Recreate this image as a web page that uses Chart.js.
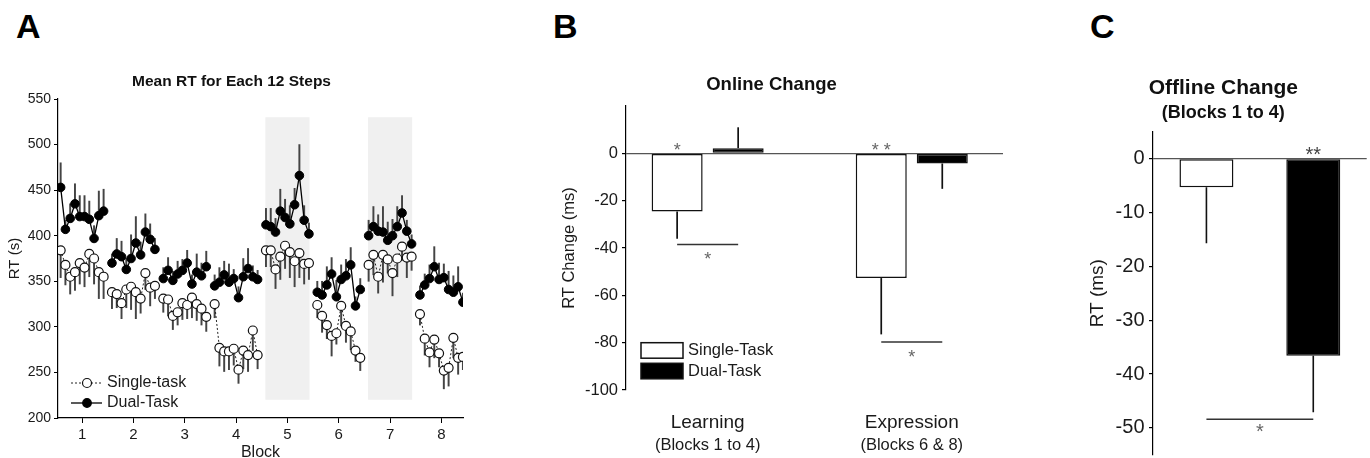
<!DOCTYPE html>
<html>
<head>
<meta charset="utf-8">
<script src="https://cdn.jsdelivr.net/npm/chart.js@4.4.1/dist/chart.umd.min.js"></script>
<style>
  body { margin: 0; background: #fff; }
  #page { position: relative; width: 1370px; height: 458px; overflow: hidden; background: #fff; }
  canvas { position: absolute; top: 0; }
  .lab { position: absolute; font: bold 34px "Liberation Sans", Arial, sans-serif; line-height: 34px; color: #000; }
</style>
</head>
<body>
<div id="page">
  <div class="lab" style="left:16px;top:9px">A</div>
  <div class="lab" style="left:553px;top:9px">B</div>
  <div class="lab" style="left:1090px;top:9px">C</div>
  <canvas id="chartA" width="480" height="458" style="left:0"></canvas>
  <canvas id="chartB" width="470" height="458" style="left:540px"></canvas>
  <canvas id="chartC" width="290" height="458" style="left:1080px"></canvas>
</div>
<script>
// ---- panel A : mean RT per 12 steps, 10 points per block ----
var blocks = [1, 2, 3, 4, 5, 6, 7, 8];
var shadedBlocks = [5, 7];
var stepsPerBlock = 10;
var stepWidth = 0.093;

var singleRT = [
  384, 368, 355, 360, 370, 365, 380, 375, 360, 355,
  338, 336, 326, 341, 344, 338, 331, 359, 343, 345,
  331, 330, 312, 316, 326, 324, 332, 325, 320, 311,
  325, 277, 273, 273, 276, 253, 274, 269, 296, 269,
  384, 384, 363, 377, 389, 382, 372, 381, 369, 370,
  324, 312, 302, 290, 293, 323, 301, 295, 274, 266,
  368, 379, 355, 379, 374, 359, 375, 388, 376, 377,
  314, 287, 272, 286, 271, 252, 255, 288, 266, 267
];
var singleErr = [
  30, 22, 19, 20, 23, 21, 25, 28, 29, 24,
  18, 15, 17, 20, 25, 29, 16, 18, 20, 14,
  15, 18, 15, 14, 18, 15, 22, 18, 18, 16,
  15, 20, 22, 20, 18, 15, 20, 18, 22, 15,
  18, 18, 21, 25, 25, 28, 28, 27, 22, 18,
  14, 18, 15, 22, 12, 22, 18, 20, 12, 14,
  18, 22, 18, 30, 15, 25, 20, 15, 22, 15,
  12, 18, 16, 20, 15, 20, 20, 22, 18, 14
];
var dualRT = [
  453, 407, 419, 435, 421, 421, 418, 397, 422, 427,
  370, 380, 377, 363, 375, 392, 379, 404, 396, 385,
  353, 362, 351, 358, 362, 370, 347, 360, 356, 366,
  345, 349, 357, 349, 353, 332, 355, 364, 355, 352,
  412, 410, 404, 427, 420, 413, 434, 466, 417, 402,
  338, 335, 346, 358, 333, 352, 356, 368, 323, 341,
  400, 410, 405, 404, 395, 400, 410, 425, 405, 391,
  335, 346, 353, 366, 352, 354, 341, 338, 344, 327
];
var dualErr = [
  27, 10, 16, 22, 23, 23, 20, 14, 27, 24,
  10, 17, 17, 12, 26, 29, 14, 20, 17, 12,
  12, 14, 10, 14, 12, 14, 10, 20, 14, 17,
  12, 16, 15, 20, 10, 12, 20, 22, 12, 10,
  18, 20, 15, 24, 20, 20, 18, 34, 16, 12,
  12, 15, 20, 18, 18, 16, 18, 19, 10, 12,
  17, 22, 18, 28, 20, 18, 22, 19, 12, 10,
  10, 12, 15, 22, 18, 15, 20, 18, 22, 10
];
var rtTicks = [200, 250, 300, 350, 400, 450, 500, 550];

// ---- panel B : online change ----
var onlineCats = ['Learning', 'Expression'];
var onlineSubs = ['(Blocks 1 to 4)', '(Blocks 6 & 8)'];
var onlineSingle = [-24.6, -52.7];
var onlineSingleErr = [11.5, 23.8];
var onlineDual = [2.2, -4.3];
var onlineDualErr = [8.8, 10.7];
var onlineSigMarks = ['*', '* *'];
var onlineSigDiff = ['*', '*'];
var onlineDiffLevel = [-38.5, -79.7];

// ---- panel C : offline change ----
var offlineCats = ['Single-Task', 'Dual-Task'];
var offlineRT = [-5.3, -36.6];
var offlineErr = [10.4, 10.5];
var offlineSigMarks = ['', '**'];
var offlineSigDiff = '*';
var offlineDiffLevel = -48.4;

var FONT = "'Liberation Sans', Arial, sans-serif";
Chart.defaults.font.family = FONT;
Chart.defaults.color = '#1a1a1a';

// error bar end, pointing away from zero
function errEnd(v, e) { return v < 0 ? v - e : v + e; }

// build point series with a gap between blocks
var singlePts = [], dualPts = [], singleBars = [], dualBars = [];
blocks.forEach(function (b, bi) {
  for (var i = 0; i < stepsPerBlock; i++) {
    var k = bi * stepsPerBlock + i;
    var x = b + (i - (stepsPerBlock - 1) / 2) * stepWidth;
    singlePts.push({ x: x, y: singleRT[k] });
    dualPts.push({ x: x, y: dualRT[k] });
    singleBars.push({ x: x, y: [singleRT[k] - singleErr[k], singleRT[k]] });
    dualBars.push({ x: x, y: [dualRT[k], dualRT[k] + dualErr[k]] });
  }
  singlePts.push({ x: b + 0.5, y: null });
  dualPts.push({ x: b + 0.5, y: null });
});

var shadePlugin = {
  id: 'shade',
  beforeDatasetsDraw: function (chart, args, opts) {
    var ctx = chart.ctx, xs = chart.scales.x, ys = chart.scales.y;
    ctx.save();
    ctx.fillStyle = opts.color;
    opts.blocks.forEach(function (b) {
      var x0 = xs.getPixelForValue(b - opts.half), x1 = xs.getPixelForValue(b + opts.half);
      var y0 = ys.getPixelForValue(opts.top), y1 = ys.getPixelForValue(opts.bottom);
      ctx.fillRect(x0, y0, x1 - x0, y1 - y0);
    });
    ctx.restore();
  }
};

var legendA = {
  id: 'legendA',
  afterDraw: function (chart) {
    var ctx = chart.ctx, area = chart.chartArea;
    var rows = [-35, -15];
    ctx.save();
    chart.data.datasets.slice(0, 2).forEach(function (ds, i) {
      var y = area.bottom + rows[i];
      ctx.strokeStyle = ds.borderColor;
      ctx.lineWidth = ds.borderWidth;
      ctx.setLineDash(ds.borderDash || []);
      ctx.beginPath();
      ctx.moveTo(area.left + 13, y);
      ctx.lineTo(area.left + 44, y);
      ctx.stroke();
      ctx.setLineDash([]);
      ctx.beginPath();
      ctx.arc(area.left + 29, y, ds.pointRadius, 0, Math.PI * 2);
      ctx.fillStyle = ds.pointBackgroundColor;
      ctx.fill();
      ctx.lineWidth = 1.2;
      ctx.strokeStyle = ds.pointBorderColor;
      ctx.stroke();
      ctx.fillStyle = '#1a1a1a';
      ctx.font = '16px ' + FONT;
      ctx.textBaseline = 'middle';
      ctx.fillText(ds.label, area.left + 49, y);
    });
    ctx.restore();
  }
};

new Chart(document.getElementById('chartA'), {
  type: 'line',
  data: {
    datasets: [
      { label: 'Single-task', data: singlePts, borderColor: '#222', borderWidth: 1, borderDash: [2, 2],
        pointRadius: 4.5, pointBackgroundColor: '#fff', pointBorderColor: '#111', pointBorderWidth: 1.2,
        spanGaps: false, order: 0 },
      { label: 'Dual-Task', data: dualPts, borderColor: '#000', borderWidth: 1.3,
        pointRadius: 4.3, pointBackgroundColor: '#000', pointBorderColor: '#000', pointBorderWidth: 1,
        spanGaps: false, order: 0 },
      { type: 'bar', data: singleBars, backgroundColor: '#444', barThickness: 1.3, grouped: false, order: 1 },
      { type: 'bar', data: dualBars, backgroundColor: '#444', barThickness: 1.3, grouped: false, order: 1 }
    ]
  },
  options: {
    responsive: false, animation: false, devicePixelRatio: 1,
    layout: { padding: { left: 0, right: 17, top: 0, bottom: 0 } },
    plugins: {
      legend: { display: false }, tooltip: { enabled: false },
      title: { display: true, text: 'Mean RT for Each 12 Steps', color: '#111',
        font: { size: 15.5, weight: 'bold' }, padding: { top: 72.4, bottom: 8 } },
      shade: { blocks: shadedBlocks, half: 0.43, top: 530, bottom: 220, color: '#f0f0f0' }
    },
    scales: {
      x: {
        type: 'linear', min: 0.53, max: 8.42, offset: false,
        afterBuildTicks: function (s) { s.ticks = blocks.map(function (v) { return { value: v }; }); },
        afterFit: function (s) { s.height = 40; s.paddingLeft = 0; s.paddingRight = 0; },
        grid: { display: true, drawOnChartArea: false, tickLength: 5, color: '#000', offset: false },
        border: { color: '#000', width: 1.2 },
        ticks: { font: { size: 15 }, padding: 3, color: '#1a1a1a' },
        title: { display: true, text: 'Block', font: { size: 16, lineHeight: 1 }, padding: { top: 0, bottom: -3 } }
      },
      y: {
        min: 200, max: 550,
        afterBuildTicks: function (s) { s.ticks = rtTicks.map(function (v) { return { value: v }; }); },
        afterFit: function (s) { s.width = 58; s.paddingTop = 0; s.paddingBottom = 0; },
        grid: { drawOnChartArea: false, tickLength: 4, color: '#000' },
        border: { color: '#000', width: 1.2 },
        ticks: { font: { size: 14 }, padding: 3, color: '#1a1a1a' },
        title: { display: true, text: 'RT (s)', font: { size: 15 }, padding: { top: 6, bottom: 0 } }
      }
    }
  },
  plugins: [shadePlugin, legendA]
});

// significance marks + brackets, placed from the bar elements
var sigPlugin = {
  id: 'sig',
  afterDatasetsDraw: function (chart, args, opts) {
    var ctx = chart.ctx, ys = chart.scales.y;
    var zero = ys.getPixelForValue(0);
    ctx.save();
    ctx.textAlign = 'center';
    ctx.textBaseline = 'alphabetic';
    opts.marks.forEach(function (m) {
      if (!m.text) return;
      var el = chart.getDatasetMeta(m.ds).data[m.i];
      ctx.font = m.font;
      ctx.fillStyle = m.color;
      ctx.fillText(m.text, el.x, zero + m.shift);
    });
    opts.brackets.forEach(function (b) {
      var a = chart.getDatasetMeta(b.from[0]).data[b.from[1]];
      var c = chart.getDatasetMeta(b.to[0]).data[b.to[1]];
      var py = ys.getPixelForValue(b.y);
      ctx.strokeStyle = '#333';
      ctx.lineWidth = 1.5;
      ctx.beginPath();
      ctx.moveTo(a.x, py);
      ctx.lineTo(c.x, py);
      ctx.stroke();
      ctx.font = b.font;
      ctx.fillStyle = b.color;
      ctx.fillText(b.text, (a.x + c.x) / 2, py + b.shift);
    });
    ctx.restore();
  }
};

var legendB = {
  id: 'legendB',
  afterDraw: function (chart) {
    var ctx = chart.ctx, area = chart.chartArea;
    var rows = [-47.3, -26.7];
    ctx.save();
    chart.data.datasets.slice(0, 2).forEach(function (ds, i) {
      var y = area.bottom + rows[i];
      ctx.fillStyle = ds.backgroundColor;
      ctx.fillRect(area.left + 15, y, 42, 15.5);
      ctx.strokeStyle = ds.borderColor;
      ctx.lineWidth = 1.5;
      ctx.strokeRect(area.left + 15, y, 42, 15.5);
      ctx.fillStyle = '#1a1a1a';
      ctx.font = '16.5px ' + FONT;
      ctx.textBaseline = 'middle';
      ctx.fillText(ds.label, area.left + 62, y + 8);
    });
    ctx.restore();
  }
};

var subLabels = {
  id: 'subLabels',
  afterDraw: function (chart) {
    var ctx = chart.ctx, xs = chart.scales.x, area = chart.chartArea;
    ctx.save();
    ctx.font = '16.5px ' + FONT;
    ctx.fillStyle = '#1a1a1a';
    ctx.textAlign = 'center';
    ctx.textBaseline = 'middle';
    xs.ticks.forEach(function (t, i) {
      ctx.fillText(onlineSubs[i], xs.getPixelForValue(t.value), area.bottom + 55);
    });
    ctx.restore();
  }
};

function zeroOnly(c) { return c.tick && c.tick.value === 0 ? '#555' : 'rgba(0,0,0,0)'; }

var barB = { categoryPercentage: 0.598, barPercentage: 0.836, borderColor: '#111', borderWidth: 1.5, borderSkipped: false };
var errB = { categoryPercentage: 0.598, barPercentage: 0.028, backgroundColor: '#111', borderWidth: 0 };

new Chart(document.getElementById('chartB'), {
  type: 'bar',
  data: {
    datasets: [
      Object.assign({ label: 'Single-Task', stack: 'single', backgroundColor: '#fff',
        data: onlineSingle.map(function (v, i) { return { x: i + 1, y: v }; }) }, barB),
      Object.assign({ label: 'Dual-Task', stack: 'dual', backgroundColor: '#000',
        data: onlineDual.map(function (v, i) { return { x: i + 1, y: v }; }) }, barB),
      Object.assign({ label: 'err1', stack: 'single',
        data: onlineSingle.map(function (v, i) { return { x: i + 1, y: [v, errEnd(v, onlineSingleErr[i])] }; }) }, errB),
      Object.assign({ label: 'err2', stack: 'dual',
        data: onlineDual.map(function (v, i) { return { x: i + 1, y: [v, errEnd(v, onlineDualErr[i])] }; }) }, errB)
    ]
  },
  options: {
    responsive: false, animation: false, devicePixelRatio: 1,
    layout: { padding: { left: 0, right: 7, top: 0, bottom: 0 } },
    plugins: {
      legend: { display: false }, tooltip: { enabled: false },
      title: { display: true, text: 'Online Change', color: '#111',
        font: { size: 18.5, weight: 'bold' }, padding: { top: 73.9, bottom: 9.9 } },
      sig: {
        marks: onlineSigMarks.map(function (t, i) {
          return { ds: 0, i: i, text: t, shift: 3, font: '18px ' + FONT, color: '#666' };
        }),
        brackets: onlineSigDiff.map(function (t, i) {
          return { from: [0, i], to: [1, i], y: onlineDiffLevel[i], text: t, shift: 21, font: '18px ' + FONT, color: '#666' };
        })
      }
    },
    scales: {
      x: {
        type: 'linear', min: 0.6, max: 2.447, offset: false,
        afterBuildTicks: function (s) { s.ticks = onlineCats.map(function (c, i) { return { value: i + 1 }; }); },
        afterFit: function (s) { s.height = 68; s.paddingLeft = 0; s.paddingRight = 0; },
        grid: { display: false, offset: false },
        border: { display: false },
        ticks: { font: { size: 19 }, padding: 13, color: '#1a1a1a',
          callback: function (v, i) { return onlineCats[i]; } }
      },
      y: {
        min: -100, max: 20, stacked: false,
        afterBuildTicks: function (s) {
          s.ticks = [-100, -80, -60, -40, -20, 0].map(function (v) { return { value: v }; });
        },
        afterFit: function (s) { s.width = 86; s.paddingTop = 0; s.paddingBottom = 0; },
        grid: { drawOnChartArea: true, color: zeroOnly, tickColor: '#000', tickLength: 4, lineWidth: 1.2 },
        border: { color: '#000', width: 1.2 },
        ticks: { font: { size: 16.5 }, padding: 4, color: '#1a1a1a' },
        title: { display: true, text: 'RT Change (ms)', font: { size: 16.5 }, padding: { top: 20, bottom: 0 } }
      }
    }
  },
  plugins: [sigPlugin, legendB, subLabels]
});

new Chart(document.getElementById('chartC'), {
  type: 'bar',
  data: {
    labels: offlineCats,
    datasets: [
      { label: 'Offline', data: offlineRT, backgroundColor: ['#fff', '#000'], borderColor: '#111',
        borderWidth: 1.5, borderSkipped: false, grouped: false, categoryPercentage: 1, barPercentage: 0.505 },
      { label: 'err', data: offlineRT.map(function (v, i) { return [v, errEnd(v, offlineErr[i])]; }),
        backgroundColor: '#111', borderWidth: 0, grouped: false, categoryPercentage: 1, barPercentage: 0.015 }
    ]
  },
  options: {
    responsive: false, animation: false, devicePixelRatio: 1,
    layout: { padding: { left: 0, right: 3.3, top: 0, bottom: 3.2 } },
    plugins: {
      legend: { display: false }, tooltip: { enabled: false },
      title: { display: true, text: 'Offline Change', color: '#111',
        font: { size: 21, weight: 'bold' }, padding: { top: 75.4, bottom: 0 } },
      subtitle: { display: true, text: '(Blocks 1 to 4)', color: '#111',
        font: { size: 18, weight: 'bold' }, padding: { top: 1.6, bottom: 7.9 } },
      sig: {
        marks: offlineSigMarks.map(function (t, i) {
          return { ds: 0, i: i, text: t, shift: 2.3, font: '20px ' + FONT, color: '#444' };
        }),
        brackets: [{ from: [0, 0], to: [0, 1], y: offlineDiffLevel, text: offlineSigDiff, shift: 19,
          font: '20px ' + FONT, color: '#666' }]
      }
    },
    scales: {
      x: { display: false, offset: true, grid: { offset: true } },
      y: {
        min: -55, max: 5, stacked: false,
        afterBuildTicks: function (s) {
          s.ticks = [-50, -40, -30, -20, -10, 0].map(function (v) { return { value: v }; });
        },
        afterFit: function (s) { s.width = 73; s.paddingTop = 0; s.paddingBottom = 0; },
        grid: { drawOnChartArea: true, color: zeroOnly, tickColor: '#000', tickLength: 4, lineWidth: 1.2 },
        border: { color: '#000', width: 1.2 },
        ticks: { font: { size: 20 }, padding: 4.5, color: '#1a1a1a' },
        title: { display: true, text: 'RT (ms)', font: { size: 19 }, padding: { top: 6.6, bottom: 0 } }
      }
    }
  },
  plugins: [sigPlugin]
});
</script>
</body>
</html>
